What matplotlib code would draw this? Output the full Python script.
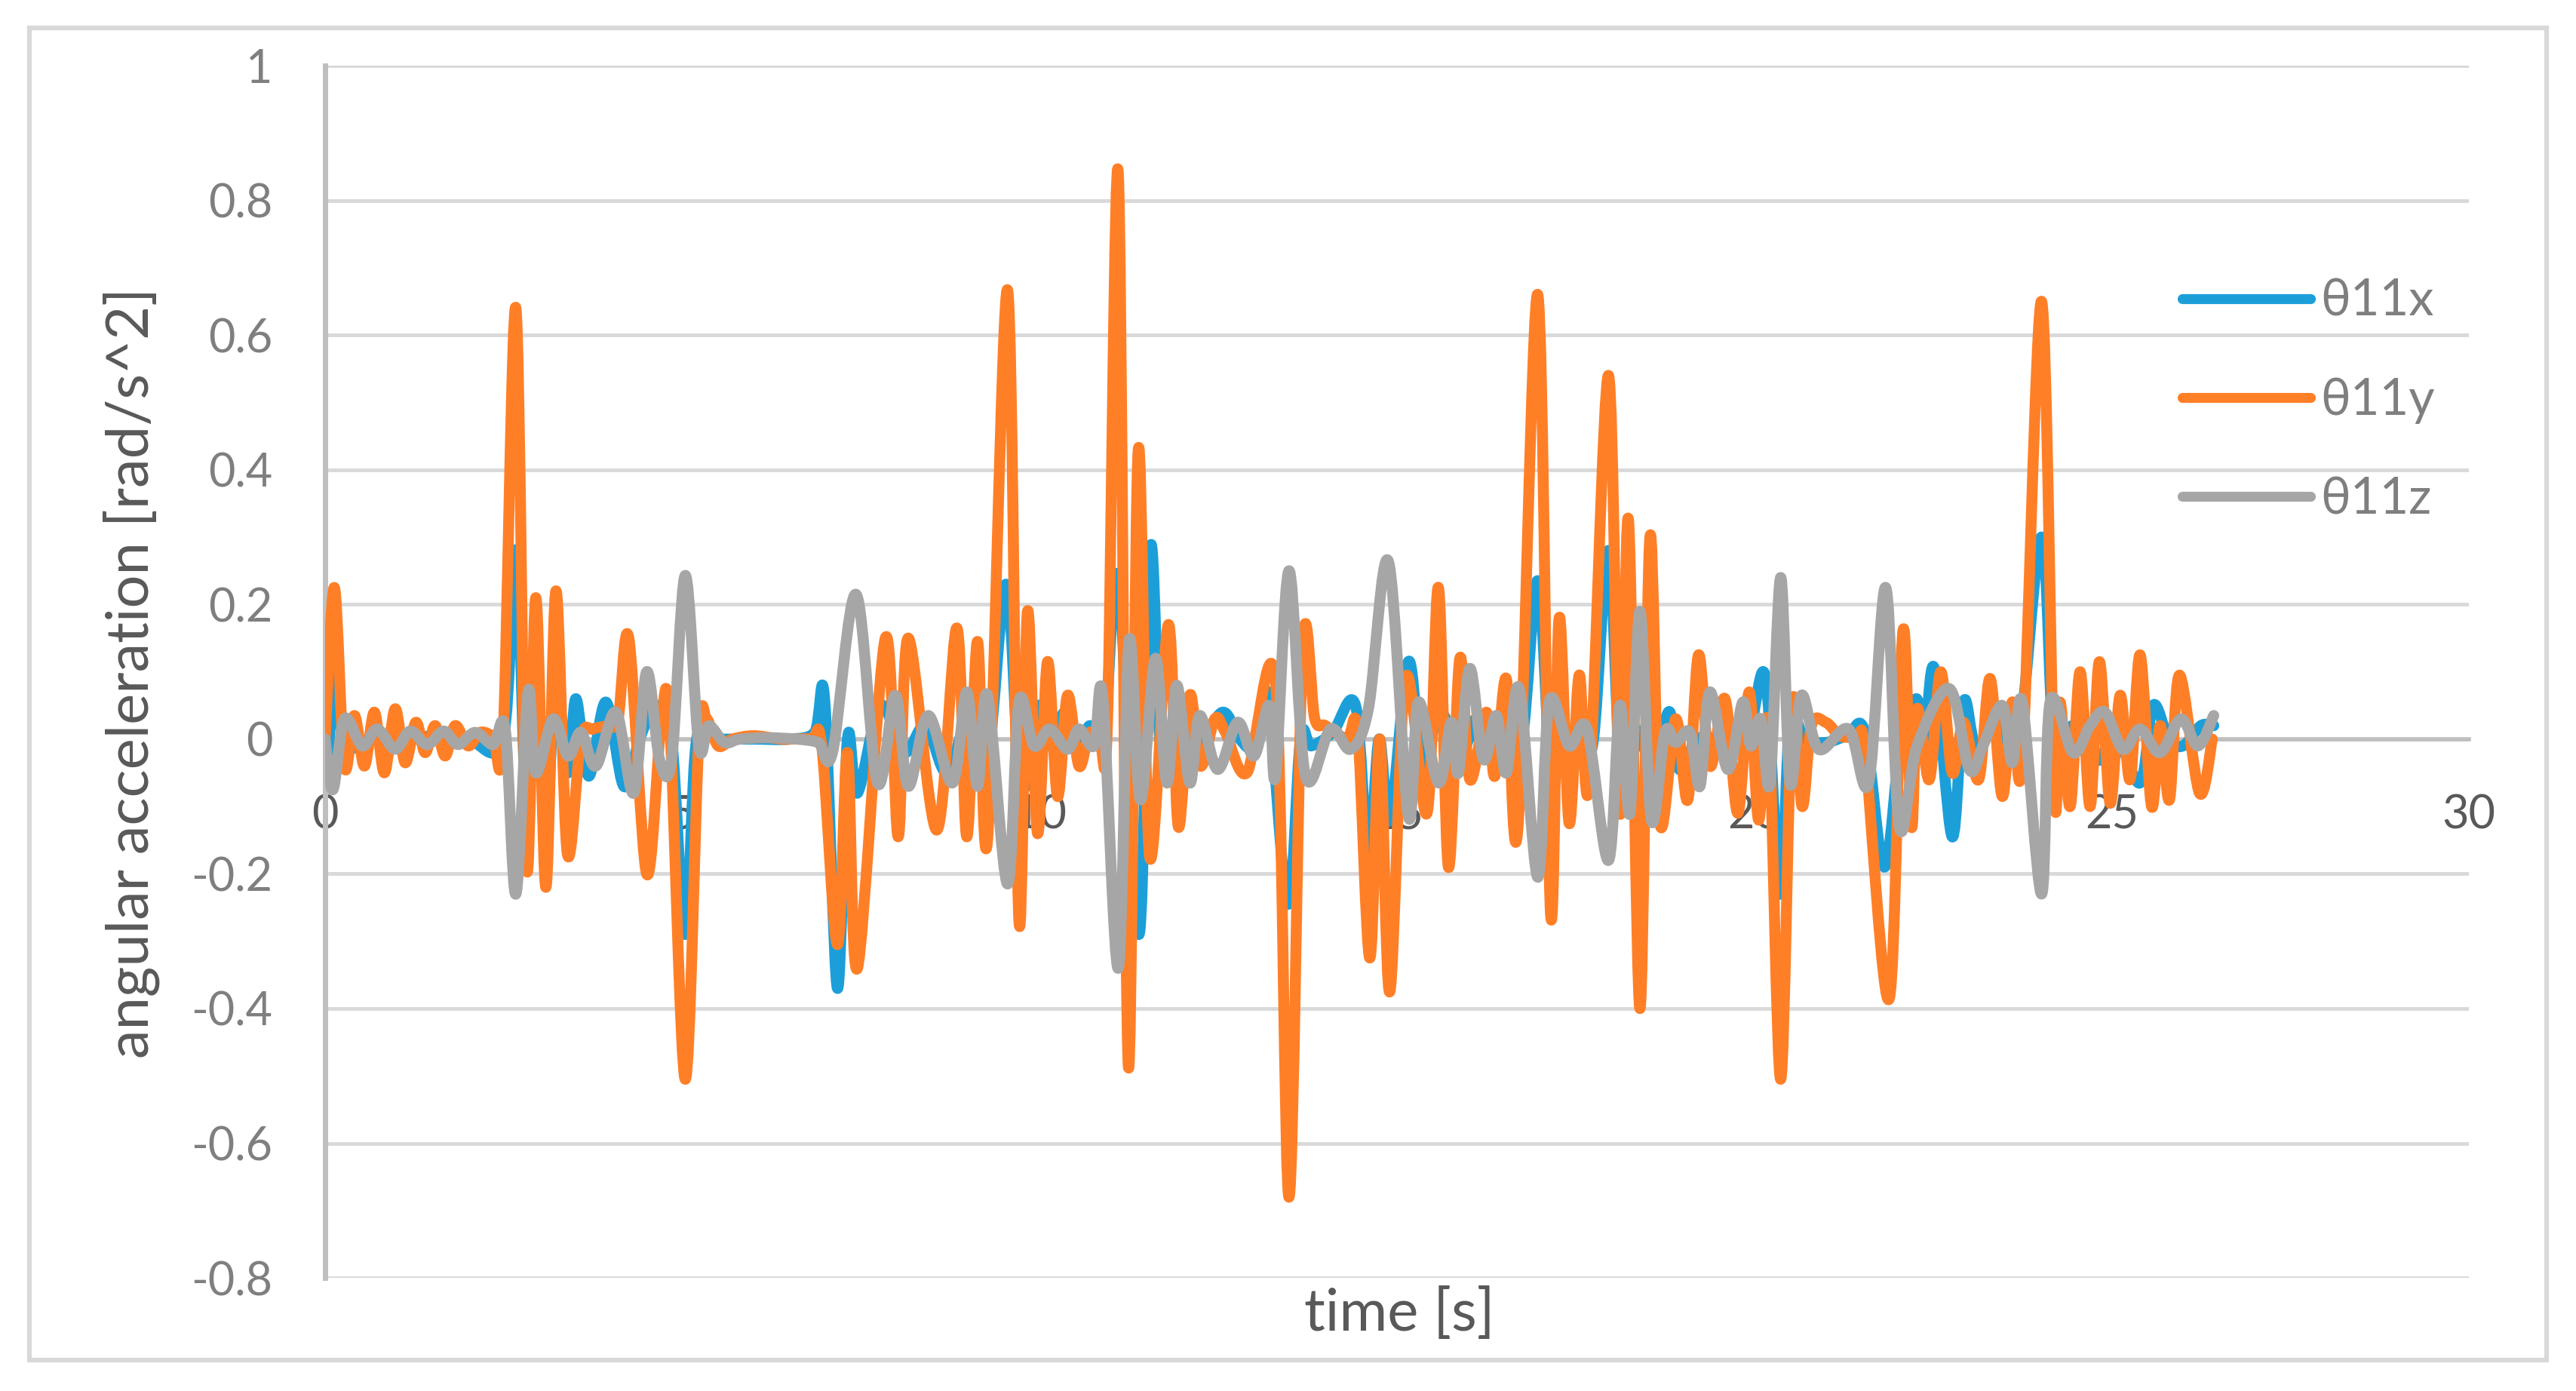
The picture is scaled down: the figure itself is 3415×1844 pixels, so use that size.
import numpy as np
import matplotlib.pyplot as plt
from matplotlib.patches import Rectangle, PathPatch
from matplotlib.path import Path

# (time [s], angular acceleration [rad/s^2])
theta11x_pts = [
    (0.00, 0.000), (0.05, -0.020), (0.13, 0.120), (0.25, 0.000), (0.50, -0.010),
    (0.70, 0.010), (1.00, -0.005), (1.50, 0.005), (2.00, 0.000), (2.49, 0.000),
    (2.67, 0.280), (2.82, -0.120), (2.95, 0.100), (3.09, -0.120), (3.23, 0.080),
    (3.40, -0.050), (3.51, 0.060), (3.69, -0.055), (3.93, 0.055), (4.18, -0.070),
    (4.40, 0.000), (4.64, 0.050), (4.85, 0.000), (5.04, -0.290), (5.20, 0.000),
    (5.50, 0.000), (6.00, 0.000), (6.50, 0.000), (6.85, 0.010), (6.99, 0.060),
    (7.17, -0.370), (7.31, 0.000), (7.45, -0.080), (7.77, 0.050), (8.10, -0.020),
    (8.40, 0.020), (8.70, -0.050), (9.00, 0.030), (9.27, -0.030), (9.53, 0.230),
    (9.71, -0.050), (9.85, -0.050), (9.98, 0.050), (10.15, -0.010), (10.35, 0.040),
    (10.55, -0.010), (10.70, 0.020), (10.90, 0.000), (11.10, 0.240), (11.39, -0.290),
    (11.55, 0.285), (11.70, -0.030), (11.90, 0.020), (12.20, -0.010), (12.56, 0.040),
    (12.80, 0.000), (13.00, -0.010), (13.19, 0.065), (13.47, -0.245), (13.65, 0.000),
    (13.80, -0.010), (14.10, 0.010), (14.42, 0.050), (14.60, -0.175), (14.75, 0.000),
    (14.90, -0.120), (15.16, 0.115), (15.35, -0.040), (15.60, 0.040), (15.90, -0.020),
    (16.10, 0.030), (16.20, -0.020), (16.50, 0.020), (16.75, 0.000), (16.97, 0.235),
    (17.15, -0.050), (17.30, -0.030), (17.55, -0.035), (17.75, 0.000), (17.96, 0.280),
    (18.12, -0.030), (18.30, 0.020), (18.50, -0.020), (18.68, 0.000), (18.82, 0.040),
    (18.95, -0.045), (19.20, 0.000), (19.50, 0.000), (19.74, 0.000), (19.95, 0.020),
    (20.16, 0.090), (20.36, -0.230), (20.50, 0.030), (20.70, 0.000), (21.00, -0.005),
    (21.30, 0.005), (21.55, 0.010), (21.82, -0.190), (22.05, 0.000), (22.27, 0.060),
    (22.38, 0.000), (22.52, 0.105), (22.77, -0.145), (22.93, 0.055), (23.10, -0.010),
    (23.40, 0.020), (23.70, 0.000), (24.02, 0.300), (24.20, -0.020), (24.45, 0.020),
    (24.70, -0.020), (24.85, -0.030), (25.05, 0.010), (25.40, -0.065), (25.58, 0.050),
    (25.80, 0.000), (26.00, -0.010), (26.25, 0.020), (26.43, 0.020),
]

theta11y_pts = [
    (0.00, 0.000), (0.13, 0.225), (0.27, -0.040), (0.41, 0.035), (0.55, -0.040),
    (0.69, 0.040), (0.83, -0.050), (0.98, 0.045), (1.12, -0.035), (1.27, 0.025),
    (1.40, -0.020), (1.54, 0.020), (1.68, -0.025), (1.82, 0.020), (2.00, -0.010),
    (2.17, 0.010), (2.35, 0.005), (2.49, 0.000), (2.67, 0.640), (2.82, -0.190),
    (2.95, 0.210), (3.09, -0.220), (3.23, 0.220), (3.39, -0.170), (3.58, 0.000),
    (3.75, 0.015), (3.95, 0.020), (4.10, 0.030), (4.25, 0.150), (4.50, -0.200),
    (4.70, 0.020), (4.82, 0.030), (5.04, -0.505), (5.23, 0.000), (5.34, 0.030),
    (5.50, -0.010), (5.70, 0.000), (6.00, 0.005), (6.40, 0.000), (6.80, 0.000),
    (6.95, -0.010), (7.17, -0.305), (7.31, -0.020), (7.45, -0.340), (7.84, 0.150),
    (8.02, -0.145), (8.16, 0.150), (8.56, -0.135), (8.84, 0.165), (8.98, -0.145),
    (9.13, 0.145), (9.27, -0.150), (9.55, 0.667), (9.71, -0.270), (9.83, 0.190),
    (9.97, -0.140), (10.11, 0.115), (10.25, -0.085), (10.39, 0.065), (10.55, -0.040),
    (10.70, 0.010), (10.85, -0.010), (10.95, 0.030), (11.10, 0.840), (11.24, -0.485),
    (11.38, 0.430), (11.54, -0.175), (11.80, 0.170), (11.94, -0.130), (12.10, 0.065),
    (12.25, -0.040), (12.45, 0.030), (12.60, 0.010), (12.90, -0.050), (13.30, 0.085),
    (13.49, -0.680), (13.68, 0.135), (13.85, 0.030), (14.00, 0.020), (14.30, 0.000),
    (14.45, 0.010), (14.62, -0.325), (14.76, 0.000), (14.90, -0.375), (15.12, 0.090),
    (15.42, -0.110), (15.58, 0.225), (15.72, -0.190), (15.88, 0.120), (16.02, -0.060),
    (16.25, 0.040), (16.37, -0.055), (16.53, 0.090), (16.69, -0.135), (16.97, 0.660),
    (17.15, -0.260), (17.27, 0.180), (17.41, -0.125), (17.55, 0.095), (17.69, -0.070),
    (17.96, 0.540), (18.12, -0.110), (18.24, 0.325), (18.40, -0.400), (18.54, 0.300),
    (18.68, -0.125), (18.90, 0.030), (19.07, -0.090), (19.22, 0.125), (19.38, -0.040),
    (19.59, 0.060), (19.77, -0.110), (19.93, 0.070), (20.06, -0.120), (20.20, 0.020),
    (20.37, -0.505), (20.53, 0.050), (20.67, -0.100), (20.80, 0.020), (21.00, 0.025),
    (21.20, 0.005), (21.45, 0.000), (21.55, -0.020), (21.89, -0.385), (22.08, 0.160),
    (22.20, -0.130), (22.28, 0.045), (22.45, -0.060), (22.61, 0.100), (22.77, -0.050),
    (22.93, 0.025), (23.14, -0.060), (23.30, 0.090), (23.47, -0.085), (23.61, 0.055),
    (23.75, -0.035), (24.02, 0.650), (24.20, -0.085), (24.28, 0.055), (24.42, -0.100),
    (24.56, 0.100), (24.70, -0.100), (24.83, 0.115), (24.98, -0.095), (25.12, 0.065),
    (25.26, -0.060), (25.40, 0.125), (25.56, -0.100), (25.68, 0.020), (25.81, -0.090),
    (25.95, 0.095), (26.23, -0.080), (26.41, 0.000),
]

theta11z_pts = [
    (0.00, 0.000), (0.11, -0.075), (0.27, 0.030), (0.52, -0.010), (0.73, 0.015),
    (0.98, -0.015), (1.19, 0.012), (1.43, -0.008), (1.66, 0.012), (1.86, -0.008),
    (2.10, 0.010), (2.35, -0.008), (2.52, 0.015), (2.67, -0.230), (2.84, 0.070),
    (2.95, -0.050), (3.19, 0.030), (3.40, -0.025), (3.58, 0.010), (3.79, -0.040),
    (4.07, 0.040), (4.32, -0.080), (4.50, 0.100), (4.68, -0.030), (4.85, -0.030),
    (5.04, 0.243), (5.23, -0.010), (5.37, 0.020), (5.59, -0.005), (5.80, 0.000),
    (6.20, 0.002), (6.60, 0.000), (6.90, -0.005), (7.10, -0.020), (7.43, 0.215),
    (7.73, -0.065), (7.98, 0.065), (8.16, -0.070), (8.44, 0.035), (8.78, -0.065),
    (8.98, 0.070), (9.13, -0.070), (9.27, 0.065), (9.55, -0.215), (9.71, 0.055),
    (9.92, -0.010), (10.14, 0.015), (10.39, -0.015), (10.55, 0.015), (10.76, -0.010),
    (10.88, 0.065), (11.10, -0.340), (11.25, 0.145), (11.41, -0.090), (11.62, 0.120),
    (11.78, -0.065), (11.92, 0.080), (12.10, -0.065), (12.24, 0.035), (12.49, -0.045),
    (12.77, 0.025), (13.00, -0.025), (13.21, 0.050), (13.30, -0.055), (13.49, 0.250),
    (13.72, -0.055), (14.07, 0.015), (14.35, -0.015), (14.60, 0.045), (14.88, 0.264),
    (15.16, -0.115), (15.30, 0.055), (15.58, -0.065), (15.76, 0.025), (15.86, -0.050),
    (16.02, 0.105), (16.21, -0.030), (16.39, 0.035), (16.53, -0.050), (16.71, 0.075),
    (16.97, -0.205), (17.13, 0.055), (17.41, -0.010), (17.66, 0.015), (17.96, -0.180),
    (18.12, 0.050), (18.26, -0.110), (18.40, 0.190), (18.56, -0.120), (18.75, 0.010),
    (18.90, -0.005), (19.10, 0.010), (19.24, -0.070), (19.38, 0.070), (19.63, -0.045),
    (19.84, 0.055), (19.95, -0.010), (20.09, 0.030), (20.22, -0.065), (20.37, 0.240),
    (20.50, -0.065), (20.66, 0.065), (20.90, -0.015), (21.32, 0.015), (21.60, -0.065),
    (21.84, 0.225), (22.03, -0.130), (22.28, -0.010), (22.73, 0.075), (23.01, -0.045),
    (23.20, -0.010), (23.47, 0.050), (23.61, -0.035), (23.75, 0.055), (24.02, -0.230),
    (24.14, 0.055), (24.46, -0.020), (24.70, 0.020), (24.91, 0.040), (25.16, -0.015),
    (25.40, 0.015), (25.68, -0.020), (25.97, 0.030), (26.21, -0.010), (26.43, 0.035),
]

series_names = ['θ11x', 'θ11y', 'θ11z']
series_colors = ['#1C9FD9', '#FF7F27', '#A6A6A6']

x_ticks = [0, 5, 10, 15, 20, 25, 30]
y_ticks = [-0.8, -0.6, -0.4, -0.2, 0, 0.2, 0.4, 0.6, 0.8, 1]
y_tick_labels = ['-0.8', '-0.6', '-0.4', '-0.2', '0', '0.2', '0.4', '0.6', '0.8', '1']

line_w = 10.5


def smooth_path(pts):
    # Excel-style "smoothed line": bezier segments through the read points
    p = np.array(pts, dtype=float)
    n = len(p)
    verts = [p[0]]
    codes = [Path.MOVETO]
    for i in range(n - 1):
        p0 = p[i - 1] if i > 0 else p[i]
        p3 = p[i + 2] if i + 2 < n else p[i + 1]
        verts += [p[i] + (p[i + 1] - p0) / 6, p[i + 1] - (p3 - p[i]) / 6, p[i + 1]]
        codes += [Path.CURVE4] * 3
    return Path(verts, codes)


plt.rcParams['font.family'] = ['Lato', 'DejaVu Sans']

fig = plt.figure(figsize=(34.15, 18.44), dpi=100)
ax = fig.add_axes([0.1262, 0.0813, 0.8322, 0.8715])

for pts, name, col in zip([theta11x_pts, theta11y_pts, theta11z_pts], series_names, series_colors):
    ax.add_patch(PathPatch(smooth_path(pts), fill=False, ec=col, lw=line_w,
                           capstyle='round', joinstyle='round', zorder=3))
    ax.plot([], [], color=col, lw=9.5, label=name, solid_capstyle='round')

ax.set_xlim(0, 30)
ax.set_ylim(-0.8, 1)
ax.set_xticks(x_ticks)
ax.set_yticks(y_ticks)
ax.set_yticklabels(y_tick_labels)

ax.yaxis.grid(True, color='#D9D9D9', lw=3.5)
ax.set_axisbelow(True)

for s in ['top', 'right']:
    ax.spines[s].set_visible(False)
ax.spines['left'].set_color('#BFBFBF')
ax.spines['left'].set_linewidth(5)
ax.spines['bottom'].set_position(('data', 0))
ax.spines['bottom'].set_color('#BFBFBF')
ax.spines['bottom'].set_linewidth(4)
ax.spines['bottom'].set_zorder(2)

ax.tick_params(axis='both', length=0, labelsize=44)
ax.tick_params(axis='x', pad=52, labelcolor='#595959')
ax.tick_params(axis='y', pad=50, labelcolor='#7F7F7F')

fig.text(0.5432, 0.055, 'time [s]', fontsize=56, color='#595959', ha='center', va='center')
fig.text(0.051, 0.516, 'angular acceleration [rad/s^2]', fontsize=56, color='#595959',
         ha='center', va='center', rotation=90)

ax.legend(loc='upper left', bbox_to_anchor=(0.8471, 0.7999), bbox_transform=fig.transFigure,
          frameon=False, fontsize=48, handlelength=2.55, handletextpad=0.2,
          labelspacing=1.04, borderpad=0, borderaxespad=0, labelcolor='#7F7F7F')

fig.add_artist(Rectangle((39 / 3415, 1 - 1803 / 1844), (3376 - 39) / 3415, (1803 - 37) / 1844,
                         transform=fig.transFigure, fill=False, ec='#D9D9D9', lw=4.5))

fig.savefig('out.png', dpi=100)
